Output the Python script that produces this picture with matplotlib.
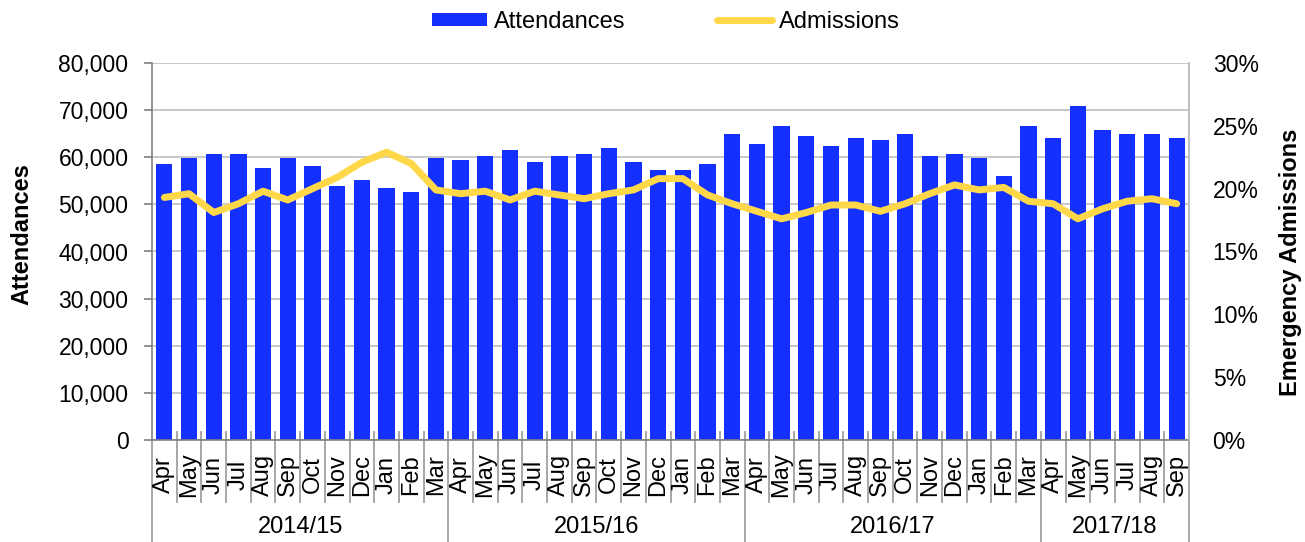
import matplotlib
matplotlib.use("Agg")
import matplotlib.pyplot as plt
import matplotlib.transforms as mtransforms
from matplotlib.patches import Patch
from matplotlib.lines import Line2D
from matplotlib.ticker import FuncFormatter, MultipleLocator

plt.rcParams['font.family'] = ['Liberation Sans', 'DejaVu Sans']

months = ["Apr", "May", "Jun", "Jul", "Aug", "Sep", "Oct", "Nov", "Dec", "Jan", "Feb", "Mar",
          "Apr", "May", "Jun", "Jul", "Aug", "Sep", "Oct", "Nov", "Dec", "Jan", "Feb", "Mar",
          "Apr", "May", "Jun", "Jul", "Aug", "Sep", "Oct", "Nov", "Dec", "Jan", "Feb", "Mar",
          "Apr", "May", "Jun", "Jul", "Aug", "Sep"]
years = ["2014/15", "2015/16", "2016/17", "2017/18"]
year_sizes = [12, 12, 12, 6]

attendances = [58600, 59800, 60700, 60700, 57700, 59800, 58100, 53900, 55200, 53500, 52600, 59800,
               59400, 60300, 61500, 59000, 60300, 60700, 62000, 59000, 57300, 57300, 58600, 64900,
               62800, 66600, 64500, 62400, 64100, 63700, 64900, 60300, 60700, 59800, 56000, 66600,
               64100, 70900, 65800, 64900, 64900, 64100]
admissions_pct = [19.3, 19.6, 18.1, 18.8, 19.8, 19.1, 20.0, 20.9, 22.1, 22.9, 22.0, 19.9,
                  19.6, 19.8, 19.1, 19.8, 19.5, 19.2, 19.6, 19.9, 20.8, 20.8, 19.5, 18.8,
                  18.2, 17.6, 18.1, 18.7, 18.7, 18.2, 18.8, 19.6, 20.3, 19.9, 20.1, 19.0,
                  18.8, 17.6, 18.4, 19.0, 19.2, 18.8]

BAR = "#1430FF"
LINE = "#FFD84A"
GRID = "#BFBFBF"
AXC = "#808080"

W, H = 1305, 542
fig = plt.figure(figsize=(W / 100, H / 100), dpi=100)
L, R, T, B = 152, 1189, 63, 440
ax = fig.add_axes([L / W, 1 - B / H, (R - L) / W, (B - T) / H])

x = list(range(len(months)))
ax.bar(x, attendances, width=0.66, color=BAR, zorder=2)
ax.set_xlim(-0.5, len(months) - 0.5)
ax.set_ylim(0, 80000)
ax.yaxis.set_major_locator(MultipleLocator(10000))
ax.yaxis.set_major_formatter(FuncFormatter(lambda v, p: f"{int(v):,}"))
ax.grid(axis='y', color=GRID, linewidth=1.2, zorder=0)
ax.set_axisbelow(True)
ax.set_xticks([])
ax.tick_params(axis='y', labelsize=16.5, length=6, width=1.2, color=AXC, pad=11)
ax.spines['top'].set_visible(False)
ax.spines['left'].set_color(AXC)
ax.spines['left'].set_linewidth(1.2)
ax.spines['bottom'].set_color(AXC)
ax.spines['bottom'].set_linewidth(1.2)
ax.spines['right'].set_color(GRID)
ax.spines['right'].set_linewidth(1.2)

ax2 = ax.twinx()
ax2.plot(x, admissions_pct, color=LINE, linewidth=5, solid_capstyle='round',
         solid_joinstyle='round', zorder=3)
ax2.set_ylim(0, 30)
ax2.yaxis.set_major_locator(MultipleLocator(5))
ax2.yaxis.set_major_formatter(FuncFormatter(lambda v, p: f"{int(v)}%"))
ax2.tick_params(axis='y', labelsize=16.5, length=0, pad=17)
for s in ['top', 'left', 'bottom']:
    ax2.spines[s].set_visible(False)
ax2.spines['right'].set_color(GRID)
ax2.spines['right'].set_linewidth(1.2)

# category axis
trans = mtransforms.blended_transform_factory(ax.transData, ax.transAxes)
ph = B - T
top_tick = 8 / ph
month_bot = -(502 - B) / ph
year_bot = -(H - B) / ph
bounds = [-0.5]
acc = -0.5
for n in year_sizes:
    acc += n
    bounds.append(acc)
for i in range(1, len(months)):
    xb = i - 0.5
    ybot = year_bot if xb in bounds else month_bot
    ax.plot([xb, xb], [top_tick, ybot], color="#A0A0A0", linewidth=1.3,
            transform=trans, clip_on=False, zorder=1)
for xb in [-0.5, len(months) - 0.5]:
    ax.plot([xb, xb], [0, year_bot], color="#A0A0A0", linewidth=1.3,
            transform=trans, clip_on=False, zorder=1)
for i, m in enumerate(months):
    ax.text(i, -(475 - B) / ph, m, rotation=90, ha='center', va='center',
            fontsize=17, transform=trans)
start = 0
for yname, n in zip(years, year_sizes):
    c = start + (n - 1) / 2
    ax.text(c, -(527 - B) / ph, yname, ha='center', va='center', fontsize=17,
            transform=trans)
    start += n

fig.text(22 / W, 1 - 234 / H, "Attendances", rotation=90, ha='center', va='center',
         fontsize=17, fontweight='bold')
fig.text(1291 / W, 1 - 262 / H, "Emergency Admissions", rotation=90, ha='center',
         va='center', fontsize=17, fontweight='bold')

handles = [Patch(facecolor=BAR, edgecolor='none'),
           Line2D([0], [0], color=LINE, linewidth=5, solid_capstyle='round')]
fig.legend(handles, ["Attendances", "Admissions"], loc='center',
           bbox_to_anchor=(666 / W, 1 - 22 / H), ncol=2, frameon=False, fontsize=17,
           handlelength=2.3, handleheight=0.5, handletextpad=0.3, columnspacing=3.9)

fig.savefig("out.png", dpi=100)
